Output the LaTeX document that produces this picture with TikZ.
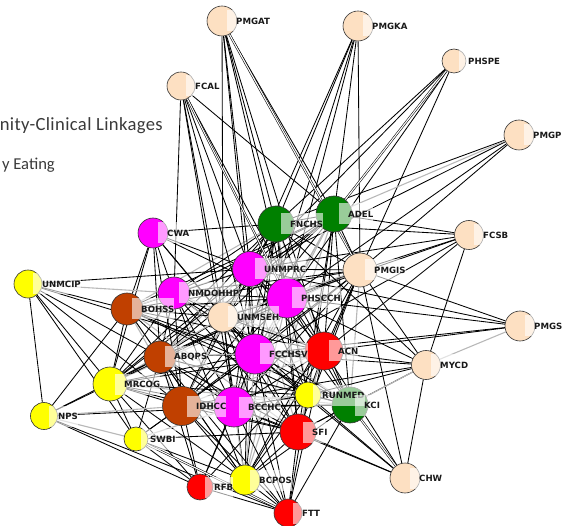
\documentclass[tikz,border=0pt]{standalone}
\usepackage{fontspec}
\setmainfont{Carlito}
\newfontfamily\ttlfont[LetterSpace=2]{Carlito}
\newfontfamily\ttlfontb{Carlito}
\newfontfamily\lblfont{DejaVu Sans}
\pgfdeclarelayer{background}
\pgfsetlayers{background,main}
\definecolor{peach}{HTML}{FDE0C2}
\definecolor{mag}{HTML}{FF00FF}
\definecolor{grn}{HTML}{008000}
\definecolor{brn}{HTML}{C04000}
\definecolor{yel}{HTML}{FFFF00}
\definecolor{rd}{HTML}{FF0000}
\definecolor{ttl}{HTML}{3A3A3A}
\tikzset{
 vtx/.style={circle, draw=black!80, line width=0.6pt, inner sep=0pt, minimum size=#1},
 lbl/.style={anchor=west, fill=white, fill opacity=0.6, text opacity=1, inner sep=0pt,
   minimum height=21pt, font=\lblfont\bfseries\fontsize{8.6}{9}\selectfont, text=black!90},
 blk/.style={draw=black, line width=0.85pt},
 gry/.style={draw=black!28, line width=1.1pt},
 dbl/.style={draw=black, line width=0.55pt, double=white, double distance=1.1pt},
 ttltext/.style={inner sep=0pt, text=ttl},
}
\begin{document}
\begin{tikzpicture}[x=1pt,y=-1pt]
\useasboundingbox (0,0) rectangle (562,526);
% title fragments
\node[ttltext, anchor=base east, font=\ttlfont\fontsize{18.6}{20}\selectfont] (t1) at (163,130.5) {nity-Clinical Linkages};
\node[ttltext, anchor=base east, font=\ttlfontb\fontsize{16.6}{20}\selectfont] (t2) at (55,170) {y Eating};
% vertices
\foreach \n/\x/\y/\d/\c in {
 PMGAT/222/21/30/peach, PMGKA/358/26/30/peach, PHSPE/454/61/24/peach, PMGPH/519/135/30/peach,
 FCAL/181/86/28/peach, CWA/153/233/30/mag, FNCHS/276/224/36/grn, ADEL/334/214/36/grn,
 FCSB/469/235/29/peach, UNMPRC/250/269/35/mag, PMGIS/360/270/34/peach, UNMCIP/28/284/28/yel,
 NMDOHHP/174/293/32/mag, PHSCCH/287/298/40/mag, BOHSS/127/309/32/brn, UNMSEH/223/317/30/peach,
 PMGS/520/326/30/peach, ABQPS/160/357/32/brn, FCCHSV/255/354/40/mag, ACN/324/351/38/rd,
 MYCD/426/365/29/peach, MRCOG/110/384/34/yel, IDHCC/182/406/39/brn, BCCHC/234/407/40/mag,
 RUNMED/308/395/26/yel, KCI/350/405/36/grn, NPS/44/416/27/yel, SWBI/136/439/24/yel,
 SFI/298/432/36/rd, CHW/405/478/30/peach, RFB/200/487/26/rd, BCPOS/245/480/30/yel,
 FTT/288/513/28/rd}
 { \node[vtx=\d pt, fill=\c] (\n) at (\x,\y) {}; }
% labels
\foreach \n in {PMGAT,PMGKA,PHSPE,PMGPH,FCAL,CWA,FNCHS,ADEL,FCSB,UNMPRC,PMGIS,UNMCIP,
 NMDOHHP,PHSCCH,BOHSS,UNMSEH,PMGS,ABQPS,FCCHSV,ACN,MYCD,MRCOG,IDHCC,BCCHC,RUNMED,KCI,
 NPS,SWBI,SFI,CHW,RFB,BCPOS,FTT}
 { \node[lbl] (L\n) at ([xshift=5pt]\n.center) {\hspace{9pt}\n\hspace{3pt}}; }
% edges
\begin{pgfonlayer}{background}
\foreach \a [count=\i] in {FNCHS,ADEL,UNMPRC,PMGIS,NMDOHHP,PHSCCH,BOHSS,UNMSEH,ABQPS,FCCHSV,ACN,MRCOG,IDHCC,BCCHC,RUNMED,KCI,SFI,BCPOS}{
  \foreach \b [count=\j] in {FNCHS,ADEL,UNMPRC,PMGIS,NMDOHHP,PHSCCH,BOHSS,UNMSEH,ABQPS,FCCHSV,ACN,MRCOG,IDHCC,BCCHC,RUNMED,KCI,SFI,BCPOS}{
    \ifnum\j>\i
      \pgfmathtruncatemacro\g{mod(\i*7+\j*3,4)}
      \ifnum\g=0 \draw[gry] (\a) -- (\b); \else \draw[blk] (\a) -- (\b); \fi
    \fi
  }
}
\foreach \a/\b in {
 PMGAT/UNMPRC, PMGAT/PHSCCH, PMGAT/FCCHSV, PMGAT/FNCHS, PMGAT/UNMSEH, PMGAT/ACN, PMGAT/ADEL,
 PMGKA/FNCHS, PMGKA/ADEL, PMGKA/UNMPRC, PMGKA/PMGIS, PMGKA/PHSCCH, PMGKA/FCCHSV,
 PHSPE/FNCHS, PHSPE/PMGIS, PHSPE/PHSCCH, PHSPE/UNMPRC,
 PMGPH/FNCHS, PMGPH/PMGIS, PMGPH/PHSCCH, PMGPH/UNMPRC,
 FCAL/NMDOHHP, FCAL/UNMPRC, FCAL/FCCHSV, FCAL/ACN, FCAL/ADEL, FCAL/UNMSEH, FCAL/BCCHC,
 FCSB/FNCHS, FCSB/ADEL, FCSB/PMGIS, FCSB/PHSCCH, FCSB/UNMPRC, FCSB/MYCD, FCSB/ACN, FCSB/FCCHSV,
 PMGS/PMGIS, PMGS/PHSCCH, PMGS/UNMPRC, PMGS/ACN, PMGS/FCCHSV,
 MYCD/PMGIS, MYCD/ACN, MYCD/FCCHSV, MYCD/RUNMED, MYCD/CHW, MYCD/SFI, MYCD/PHSCCH, MYCD/FNCHS, MYCD/IDHCC,
 CHW/RUNMED, CHW/SFI, CHW/ACN, CHW/PMGIS, CHW/FCCHSV, CHW/BCCHC,
 CWA/FNCHS, CWA/UNMPRC, CWA/NMDOHHP, CWA/BOHSS, CWA/ABQPS, CWA/PHSCCH, CWA/FCCHSV, CWA/MRCOG, CWA/IDHCC, CWA/UNMSEH,
 UNMCIP/BOHSS, UNMCIP/UNMPRC, UNMCIP/ABQPS, UNMCIP/MRCOG, UNMCIP/NPS, UNMCIP/SWBI, UNMCIP/IDHCC, UNMCIP/FCCHSV,
 NPS/MRCOG, NPS/BOHSS, NPS/ABQPS, NPS/RFB, NPS/FTT, NPS/BCCHC,
 SWBI/MRCOG, SWBI/IDHCC, SWBI/RFB, SWBI/BCPOS, SWBI/ABQPS, SWBI/SFI, SWBI/FCCHSV,
 RFB/IDHCC, RFB/BCCHC, RFB/MRCOG, RFB/FTT, RFB/FCCHSV, RFB/ABQPS, RFB/ACN,
 FTT/BCPOS, FTT/SFI, FTT/IDHCC, FTT/BCCHC, FTT/FCCHSV, FTT/ACN, FTT/ABQPS, FTT/KCI, FTT/RUNMED, FTT/UNMSEH}
 { \draw[blk] (\a) -- (\b); }
\foreach \a/\b in {UNMCIP/NMDOHHP, NPS/SWBI, NPS/IDHCC, PMGS/MYCD, PMGPH/ADEL, MYCD/KCI, RFB/BCPOS, SWBI/BCCHC}
 { \draw[gry] (\a) -- (\b); }
\foreach \a/\b in {PMGAT/PMGIS, PHSPE/ADEL, FCAL/PHSCCH, CHW/KCI, SWBI/FTT}
 { \draw[dbl] (\a) -- (\b); }
\end{pgfonlayer}
\end{tikzpicture}
\end{document}
